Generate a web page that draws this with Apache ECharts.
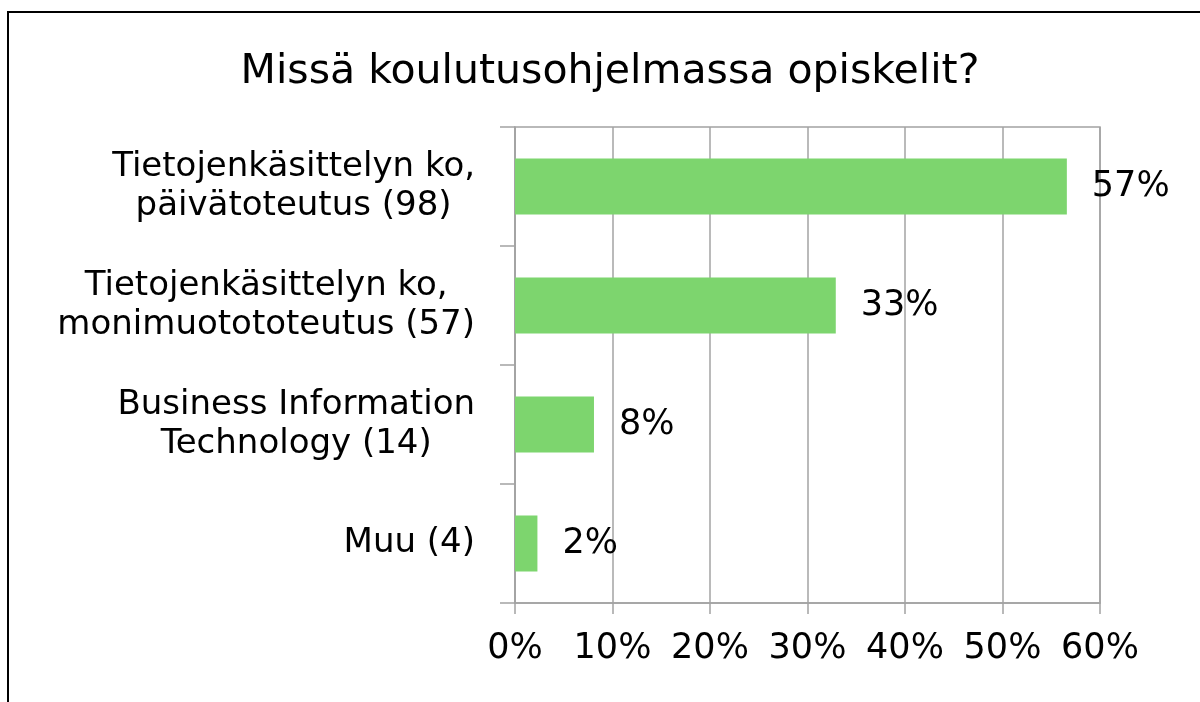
<!DOCTYPE html>
<html>
<head>
<meta charset="utf-8">
<title>Missä koulutusohjelmassa opiskelit?</title>
<script src="https://cdn.jsdelivr.net/npm/echarts@6/dist/echarts.min.js"></script>
<style>
    html, body { margin: 0; padding: 0; background: #fff; }
    #chartArea { width: 1200px; height: 702px; }
</style>
</head>
<body>
<div id="chartArea"></div>
<script>
// data
var categories = [
    'Tietojenkäsittelyn ko,\npäivätoteutus (98)',
    'Tietojenkäsittelyn ko,\nmonimuotototeutus (57)',
    'Business Information\nTechnology (14)',
    'Muu (4)'
];
var percents = [56.6, 32.9, 8.1, 2.3];
var tickValues = [0, 10, 20, 30, 40, 50, 60];

var gridColor = '#a3a3a3';
var font = 'DejaVu Sans, Verdana, sans-serif';

var chartDom = document.getElementById('chartArea');
var myChart = echarts.init(chartDom);
var option;

option = {
    animation: false,
    title: {
        text: 'Missä koulutusohjelmassa opiskelit?',
        left: 605,
        textAlign: 'center',
        top: 47,
        textStyle: { fontFamily: font, fontSize: 41, fontWeight: 'normal', color: '#000' }
    },
    graphic: [{
        type: 'polyline',
        shape: { points: [[8, 702], [8, 12], [1200, 12]] },
        style: { stroke: '#000', lineWidth: 2, fill: null }
    }],
    grid: {
        left: 515,
        right: 100,
        top: 127,
        bottom: 99,
        show: true,
        borderColor: gridColor,
        borderWidth: 1.5
    },
    xAxis: {
        type: 'value',
        min: tickValues[0],
        max: tickValues[tickValues.length - 1],
        interval: 10,
        axisLine: { show: true, lineStyle: { color: gridColor, width: 1.5 } },
        axisTick: { show: true, length: 11, lineStyle: { color: gridColor, width: 1.5 } },
        splitLine: { show: true, lineStyle: { color: gridColor, width: 1.5 } },
        axisLabel: {
            formatter: '{value}%',
            margin: 28,
            fontFamily: font,
            fontSize: 35,
            color: '#000'
        }
    },
    yAxis: {
        type: 'category',
        data: categories,
        inverse: true,
        axisLine: { show: true, lineStyle: { color: gridColor, width: 1.5 } },
        axisTick: { show: true, length: 15, alignWithLabel: false, lineStyle: { color: gridColor, width: 1.5 } },
        axisLabel: {
            margin: 40,
            formatter: function (val) {
                return val.split('\n').map(function (s) { return '{a|' + s + '}'; }).join('\n');
            },
            rich: {
                a: { align: 'center', fontFamily: font, fontSize: 34, lineHeight: 39, color: '#000' }
            }
        }
    },
    series: [{
        type: 'bar',
        data: percents,
        barWidth: 56,
        itemStyle: { color: '#7dd56e' },
        label: {
            show: true,
            position: 'right',
            distance: 25,
            formatter: function (p) { return Math.round(p.value) + '%'; },
            fontFamily: font,
            fontSize: 35,
            color: '#000'
        }
    }]
};

option && myChart.setOption(option);
</script>
</body>
</html>
